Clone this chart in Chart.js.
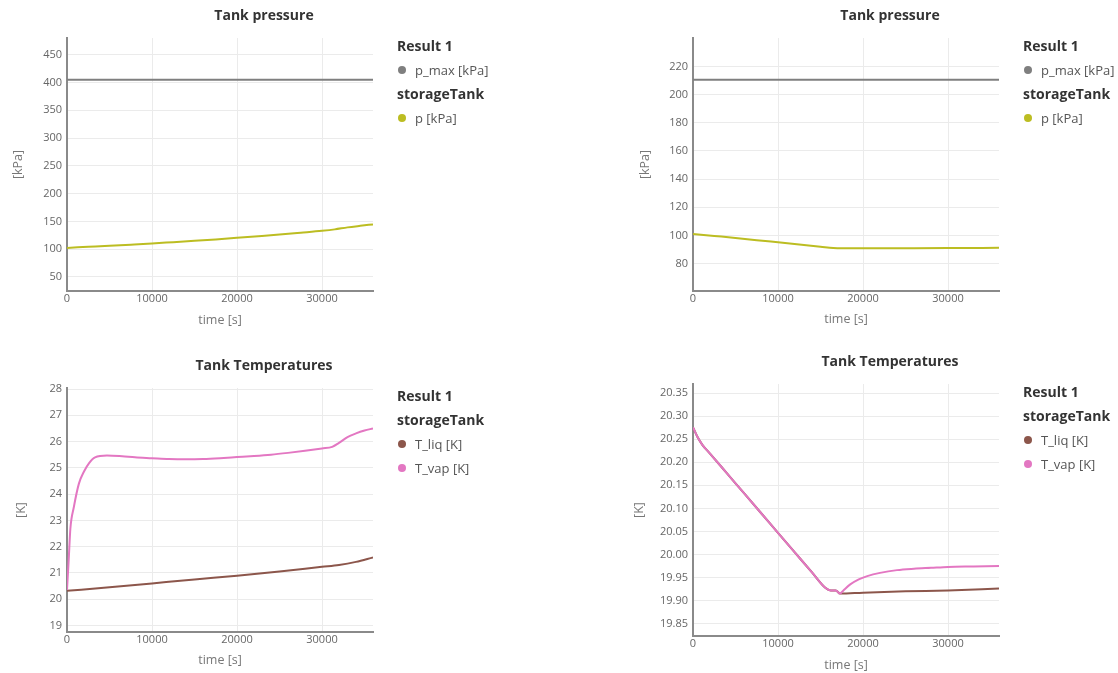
<!DOCTYPE html>
<html>
<head>
<meta charset="utf-8">
<title>Tank results</title>
<script src="https://cdn.jsdelivr.net/npm/chart.js@4.4.1/dist/chart.umd.min.js"></script>
<style>
html, body { margin: 0; padding: 0; overflow: hidden; background: #fff; }
body { width: 1118px; height: 673px; position: relative; font-family: 'Open Sans', sans-serif; }
.panel { position: absolute; width: 528px; }
.panel canvas { position: absolute; left: 0; top: 0; }
.legend { position: absolute; left: 397px; white-space: nowrap; }
.legend .row { height: 24px; line-height: 24px; position: relative; }
.legend .head { font-weight: bold; font-size: 14px; color: #333; }
.legend .item { font-size: 13px; color: #555; padding-left: 18px; }
.legend .dot { position: absolute; left: 1px; top: 8px; width: 8px; height: 8px; border-radius: 50%; }
</style>
</head>
<body>
<div class="panel" style="left:0;top:0;height:336px"><canvas id="c1" width="528" height="336"></canvas><div class="legend" id="l1" style="top:34px"></div></div>
<div class="panel" style="left:626px;top:0;height:336px"><canvas id="c2" width="528" height="336"></canvas><div class="legend" id="l2" style="top:34px"></div></div>
<div class="panel" style="left:0;top:336px;height:337px"><canvas id="c3" width="528" height="337"></canvas><div class="legend" id="l3" style="top:48px"></div></div>
<div class="panel" style="left:626px;top:336px;height:337px"><canvas id="c4" width="528" height="337"></canvas><div class="legend" id="l4" style="top:44px"></div></div>

<script>
// ---- data (time in s) ----
const timeTicks = [0, 10000, 20000, 30000];
const timeRange = [0, 36000];

// case A: tank pressure [kPa]
const pMaxTime = [0, 36000];
const pMaxA = [405, 405];
const pTimeA = [0, 2500, 5000, 7500, 10000, 12500, 15000, 17500, 20000, 22500, 25000, 27500, 30000, 31500, 33000, 34500, 36000];
const pA = [102.3, 104.2, 106.1, 108.1, 110.2, 112.6, 115.0, 117.6, 120.4, 123.3, 126.3, 129.6, 133.0, 135.6, 139.2, 142.0, 144.6];
const pTicksA = [50, 100, 150, 200, 250, 300, 350, 400, 450];
const pRangeA = [24.7, 480];

// case B: tank pressure [kPa]
const pMaxB = [210.5, 210.5];
const pTimeB = [0, 2500, 5000, 7500, 10000, 12500, 15000, 16500, 17500, 20000, 25000, 30000, 36000];
const pB = [101.0, 99.6, 98.2, 96.6, 95.1, 93.6, 92.0, 91.0, 90.8, 90.8, 90.9, 91.0, 91.2];
const pTicksB = [80, 100, 120, 140, 160, 180, 200, 220];
const pRangeB = [60.5, 240.2];

// case A: temperatures [K]
const tLiqTimeA = [0, 5000, 10000, 15000, 20000, 25000, 30000, 32000, 34000, 36000];
const tLiqA = [20.32, 20.45, 20.6, 20.75, 20.89, 21.05, 21.23, 21.3, 21.42, 21.59];
const tVapTimeA = [0, 200, 400, 800, 1400, 2000, 2600, 3300, 4700, 6500, 8000, 10000, 12000, 14000, 16000, 18000, 20000, 22000, 24000, 26000, 28000, 30000, 31200, 32000, 33000, 34000, 35000, 36000];
const tVapA = [20.35, 21.5, 22.7, 23.5, 24.4, 24.86, 25.18, 25.4, 25.47, 25.44, 25.4, 25.37, 25.34, 25.33, 25.34, 25.37, 25.41, 25.45, 25.5, 25.57, 25.65, 25.74, 25.8, 25.95, 26.17, 26.31, 26.42, 26.5];
const tTicksA = [19, 20, 21, 22, 23, 24, 25, 26, 27, 28];
const tRangeA = [18.75, 28.04];

// case B: temperatures [K]
const tLiqTimeB = [0, 500, 1100, 2000, 4000, 6000, 8000, 10000, 12000, 14000, 15600, 16200, 16800, 17300, 20000, 25000, 30000, 36000];
const tLiqB = [20.276, 20.256, 20.238, 20.219, 20.176, 20.133, 20.090, 20.047, 20.004, 19.961, 19.927, 19.922, 19.922, 19.915, 19.917, 19.920, 19.922, 19.926];
const tVapTimeB = [0, 500, 1100, 2000, 4000, 6000, 8000, 10000, 12000, 14000, 15600, 16200, 16800, 17300, 17700, 18500, 19500, 20500, 22000, 24000, 26000, 28000, 30000, 33000, 36000];
const tVapB = [20.276, 20.256, 20.238, 20.219, 20.176, 20.133, 20.090, 20.047, 20.004, 19.961, 19.927, 19.922, 19.922, 19.915, 19.922, 19.935, 19.946, 19.953, 19.960, 19.966, 19.969, 19.971, 19.973, 19.974, 19.975];
const tTicksB = [19.85, 19.90, 19.95, 20.00, 20.05, 20.10, 20.15, 20.20, 20.25, 20.30, 20.35];
const tRangeB = [19.823, 20.37];

// legend groups
const pressureLegend = [['Result 1', ['p_max [kPa]']], ['storageTank', ['p [kPa]']]];
const tempLegend = [['Result 1', []], ['storageTank', ['T_liq [K]', 'T_vap [K]']]];

const colors = { 'p_max [kPa]': '#7f7f7f', 'p [kPa]': '#bcbd22', 'T_liq [K]': '#8c564b', 'T_vap [K]': '#e377c2' };

Chart.defaults.font.family = "'Open Sans', sans-serif";

function toPoints(xs, ys) {
    return xs.map((x, i) => ({ x: x, y: ys[i] }));
}

function line(label, xs, ys, order) {
    return {
        label: label,
        data: toPoints(xs, ys),
        borderColor: colors[label],
        backgroundColor: colors[label],
        borderWidth: 2,
        pointRadius: 0,
        cubicInterpolationMode: 'monotone',
        order: order
    };
}

function buildLegend(id, groups) {
    const el = document.getElementById(id);
    groups.forEach(g => {
        let h = document.createElement('div');
        h.className = 'row head';
        h.textContent = g[0];
        el.appendChild(h);
        g[1].forEach(name => {
            let r = document.createElement('div');
            r.className = 'row item';
            r.innerHTML = '<span class="dot" style="background:' + colors[name] + '"></span>';
            r.appendChild(document.createTextNode(name));
            el.appendChild(r);
        });
    });
}

function makeChart(id, c) {
    const ctx = document.getElementById(id).getContext('2d');
    return new Chart(ctx, {
        type: 'line',
        data: { datasets: c.datasets },
        options: {
            responsive: false,
            animation: false,
            layout: { padding: 0 },
            plugins: {
                legend: { display: false },
                tooltip: { enabled: false },
                title: {
                    display: true,
                    text: c.title,
                    color: '#333',
                    font: { size: 14, weight: 'bold' },
                    padding: { top: c.titleTop, bottom: 13.6 }
                }
            },
            scales: {
                x: {
                    type: 'linear',
                    min: timeRange[0],
                    max: timeRange[1],
                    afterBuildTicks: s => { s.ticks = timeTicks.map(v => ({ value: v })); },
                    afterFit: s => { s.height = c.xHeight; },
                    ticks: { padding: 1, color: '#666', font: { size: 11 }, callback: v => String(v) },
                    grid: { color: '#ebebeb', drawTicks: false },
                    border: { color: '#8a8a8a', width: 2 },
                    title: { display: true, text: 'time [s]', color: '#777', font: { size: 12.5 }, padding: { top: 0, bottom: c.xTitlePad } }
                },
                y: {
                    type: 'linear',
                    min: c.range[0],
                    max: c.range[1],
                    afterBuildTicks: s => { s.ticks = c.ticks.map(v => ({ value: v })); },
                    afterFit: s => { s.width = 67; },
                    ticks: { padding: 5, color: '#666', font: { size: 11 }, callback: v => v.toFixed(c.decimals) },
                    grid: { color: '#ebebeb', drawTicks: false },
                    border: { color: '#8a8a8a', width: 2 },
                    title: { display: true, text: c.yTitle, color: '#777', font: { size: 12.5 }, padding: { top: c.yTitlePad, bottom: 0 } }
                },
                // empty strip on the right, where the legend sits
                side: {
                    type: 'linear',
                    position: 'right',
                    afterFit: s => { s.width = 155; },
                    ticks: { display: false },
                    grid: { display: false },
                    border: { display: false }
                }
            }
        }
    });
}

makeChart('c1', {
    title: 'Tank pressure', titleTop: 7.6, xHeight: 45, xTitlePad: 8.5, yTitlePad: 10.5,
    yTitle: '[kPa]', range: pRangeA, ticks: pTicksA, decimals: 0,
    datasets: [line('p_max [kPa]', pMaxTime, pMaxA, 1), line('p [kPa]', pTimeA, pA, 0)]
});
makeChart('c2', {
    title: 'Tank pressure', titleTop: 7.6, xHeight: 45, xTitlePad: 9.2, yTitlePad: 11.5,
    yTitle: '[kPa]', range: pRangeB, ticks: pTicksB, decimals: 0,
    datasets: [line('p_max [kPa]', pMaxTime, pMaxB, 1), line('p [kPa]', pTimeB, pB, 0)]
});
makeChart('c3', {
    title: 'Tank Temperatures', titleTop: 21.6, xHeight: 41, xTitlePad: 4.8, yTitlePad: 13.5,
    yTitle: '[K]', range: tRangeA, ticks: tTicksA, decimals: 0,
    datasets: [line('T_liq [K]', tLiqTimeA, tLiqA, 1), line('T_vap [K]', tVapTimeA, tVapA, 0)]
});
makeChart('c4', {
    title: 'Tank Temperatures', titleTop: 17.6, xHeight: 37, xTitlePad: 0.5, yTitlePad: 5.5,
    yTitle: '[K]', range: tRangeB, ticks: tTicksB, decimals: 2,
    datasets: [line('T_liq [K]', tLiqTimeB, tLiqB, 1), line('T_vap [K]', tVapTimeB, tVapB, 0)]
});

buildLegend('l1', pressureLegend);
buildLegend('l2', pressureLegend);
buildLegend('l3', tempLegend);
buildLegend('l4', tempLegend);
</script>
</body>
</html>
